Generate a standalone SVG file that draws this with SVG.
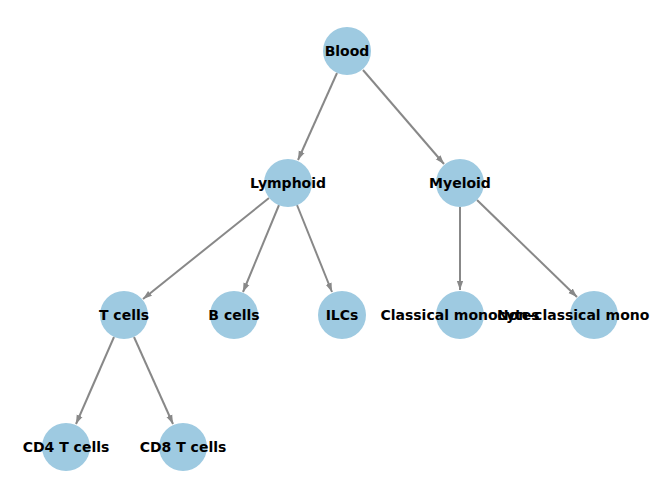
<svg xmlns="http://www.w3.org/2000/svg" width="660" height="499" viewBox="0 0 660 499">
<style>
circle{fill:#9ecae1}
text{font-family:"DejaVu Sans",sans-serif;font-weight:bold;font-size:14px;text-anchor:middle;fill:#000}
.e line{stroke:#888;stroke-width:2;marker-end:url(#a)}
</style>
<defs><marker id="a" viewBox="0 0 10 10" refX="10" refY="5" markerWidth="9" markerHeight="9" orient="auto" markerUnits="userSpaceOnUse"><path d="M0,1.5L10,5L0,8.5z" fill="#888"/></marker></defs>
<rect width="660" height="499" fill="#fff"/>
<g class="e">
<line x1="337" y1="73" x2="298" y2="160"/>
<line x1="363" y1="70" x2="444" y2="164"/>
<line x1="269" y1="198" x2="143" y2="299"/>
<line x1="279" y1="205" x2="243" y2="292"/>
<line x1="297" y1="205" x2="332" y2="292"/>
<line x1="460" y1="207" x2="460" y2="290"/>
<line x1="477" y1="200" x2="577" y2="297"/>
<line x1="114" y1="337" x2="76" y2="424"/>
<line x1="134" y1="337" x2="173" y2="424"/>
</g>
<g id="blood"><circle cx="347" cy="51" r="24"/><text x="347" y="56">Blood</text></g>
<g id="lymphoid"><circle cx="288" cy="183" r="24"/><text x="288" y="188">Lymphoid</text></g>
<g id="myeloid"><circle cx="460" cy="183" r="24"/><text x="460" y="188">Myeloid</text></g>
<g id="tcells"><circle cx="124" cy="315" r="24"/><text x="124" y="320">T cells</text></g>
<g id="bcells"><circle cx="234" cy="315" r="24"/><text x="234" y="320">B cells</text></g>
<g id="ilcs"><circle cx="342" cy="315" r="24"/><text x="342" y="320">ILCs</text></g>
<g id="classical"><circle cx="460" cy="315" r="24"/><text x="460" y="320">Classical monocytes</text></g>
<g id="nonclassical"><circle cx="594" cy="315" r="24"/><text x="497" y="320" style="text-anchor:start">Non-classical mono</text></g>
<g id="cd4"><circle cx="66" cy="447" r="24"/><text x="66" y="452">CD4 T cells</text></g>
<g id="cd8"><circle cx="183" cy="447" r="24"/><text x="183" y="452">CD8 T cells</text></g>
</svg>
